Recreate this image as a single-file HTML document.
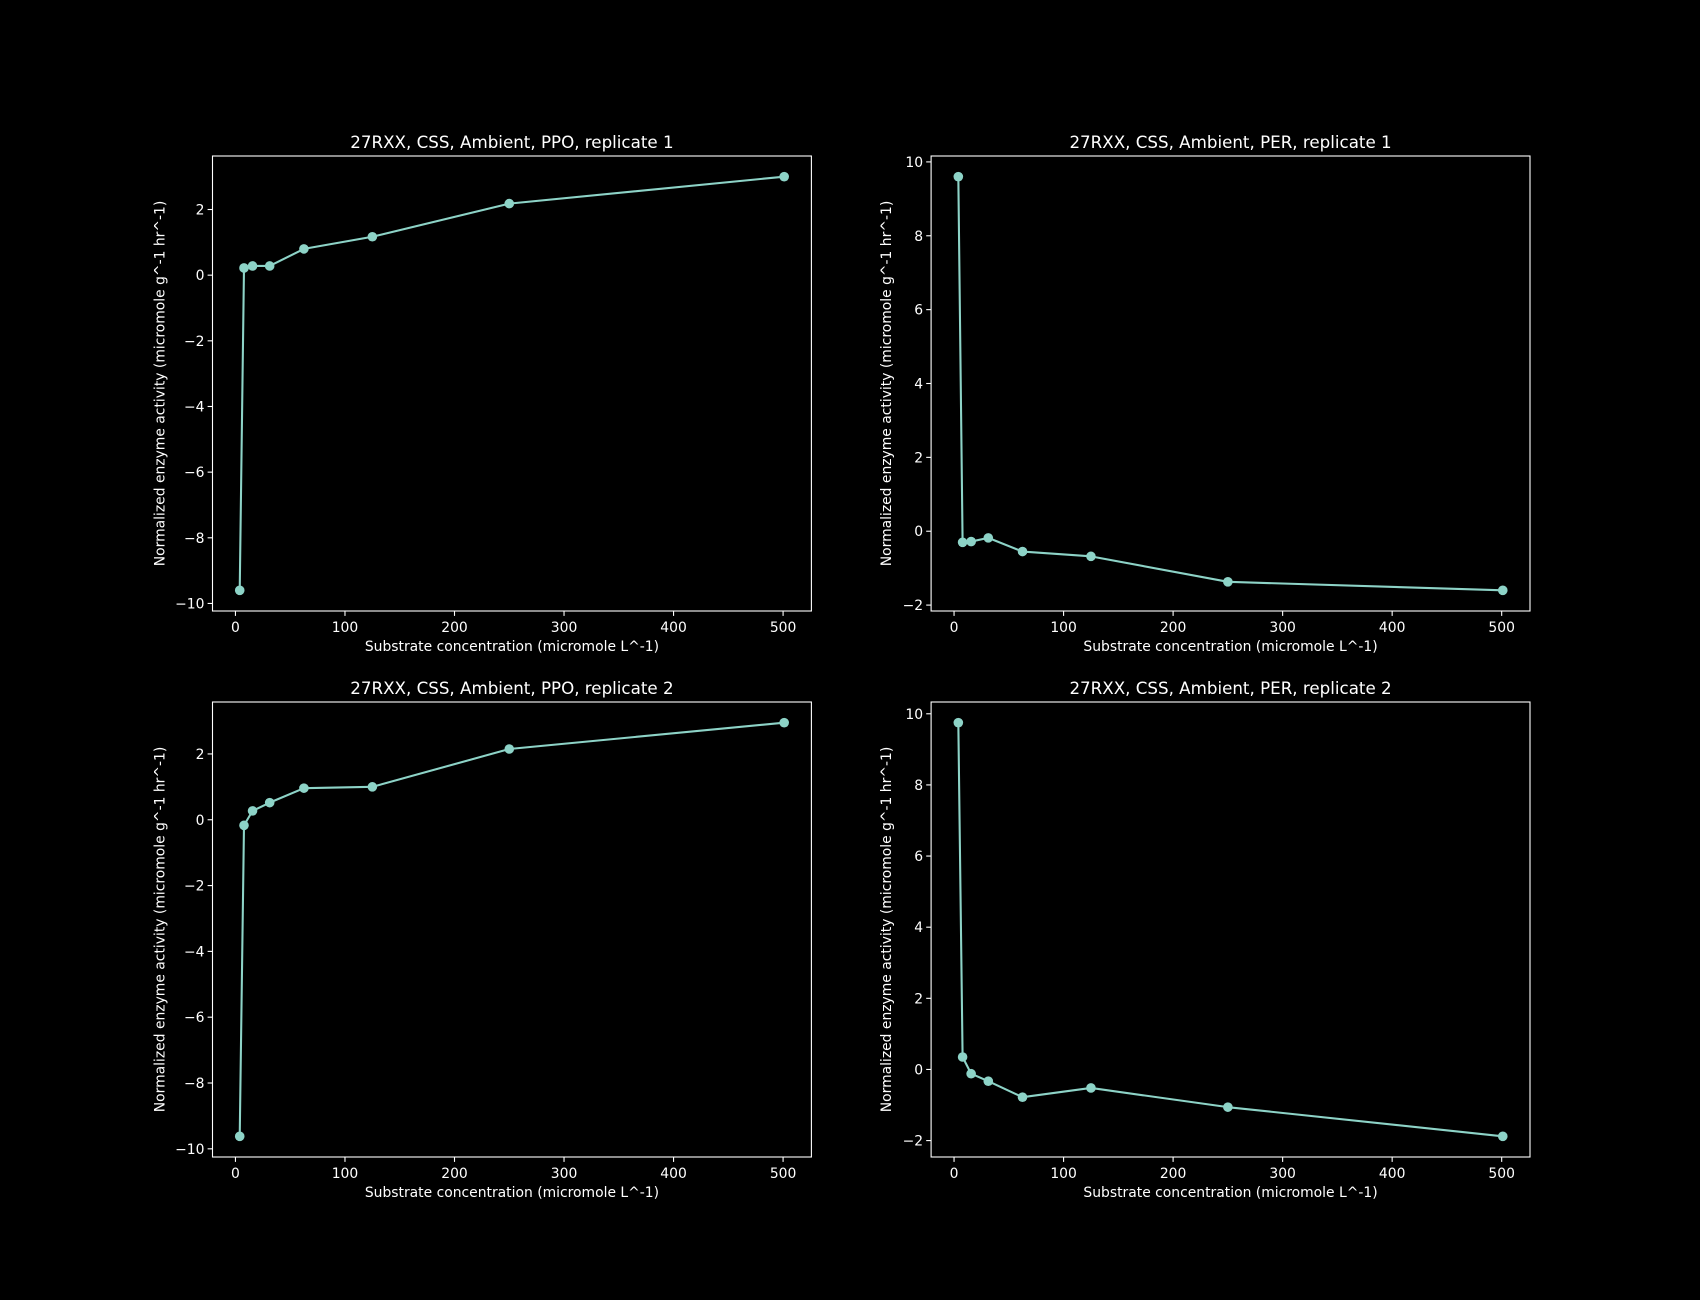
<!DOCTYPE html>
<html><head><meta charset="utf-8"><style>
html,body{margin:0;padding:0;background:#000;}
svg{display:block;}
text{font-family:"DejaVu Sans","Liberation Sans",sans-serif;fill:#fff;}
</style></head><body>
<svg id="fig" width="1700" height="1300" viewBox="0 0 1700 1300"></svg>
<script>
const xConc = [3.9, 7.8, 15.6, 31.25, 62.5, 125, 250, 501];
const ppoRep1 = [-9.6, 0.22, 0.28, 0.28, 0.8, 1.17, 2.18, 3.0];
const perRep1 = [9.6, -0.3, -0.28, -0.18, -0.55, -0.68, -1.37, -1.6];
const ppoRep2 = [-9.62, -0.17, 0.27, 0.52, 0.96, 1.0, 2.15, 2.95];
const perRep2 = [9.75, 0.35, -0.12, -0.33, -0.78, -0.52, -1.06, -1.88];
const titles = ["27RXX, CSS, Ambient, PPO, replicate 1","27RXX, CSS, Ambient, PER, replicate 1","27RXX, CSS, Ambient, PPO, replicate 2","27RXX, CSS, Ambient, PER, replicate 2"];
const xTicks = [0,100,200,300,400,500];

const NS="http://www.w3.org/2000/svg";
const svg=document.getElementById('fig');
function mk(tag,attrs,parent){const e=document.createElementNS(NS,tag);for(const k in attrs)e.setAttribute(k,attrs[k]);(parent||svg).appendChild(e);return e;}

const panels=[
 {ys:ppoRep1,L:212.5,T:156,W:598.9,H:455,name:'ppo-rep1',lab:48},
 {ys:perRep1,L:931.1,T:156,W:598.9,H:455,name:'per-rep1',lab:40},
 {ys:ppoRep2,L:212.5,T:702,W:598.9,H:455,name:'ppo-rep2',lab:48},
 {ys:perRep2,L:931.1,T:702,W:598.9,H:455,name:'per-rep2',lab:40}
];
panels.forEach((p,i)=>{
 const g=mk('g',{});
 
 
 const xmin=Math.min(...xConc),xmax=Math.max(...xConc),xr=xmax-xmin;
 const x0=xmin-0.05*xr,x1=xmax+0.05*xr;
 const ymin=Math.min(...p.ys),ymax=Math.max(...p.ys),yr=ymax-ymin;
 const y0=ymin-0.05*yr,y1=ymax+0.05*yr;
 const sx=v=>p.L+(v-x0)/(x1-x0)*p.W;
 const sy=v=>p.T+p.H-(v-y0)/(y1-y0)*p.H;
 xTicks.forEach(t=>{
  const X=sx(t);
  const tl=mk('line',{x1:X,x2:X,y1:p.T+p.H,y2:p.T+p.H+4.9,stroke:'#fff','stroke-width':1.1},g);
  
  
  const tx=mk('text',{x:X,y:p.T+p.H+21,'text-anchor':'middle','font-size':13.9},g);
  tx.textContent=String(t);
  
  
 });
 for(let t=Math.ceil(y0/2)*2;t<=y1;t+=2){
  const Y=sy(t);
  const tl=mk('line',{x1:p.L-4.9,x2:p.L,y1:Y,y2:Y,stroke:'#fff','stroke-width':1.1},g);
  
  
  const tx=mk('text',{x:p.L-8,y:Y+5,'text-anchor':'end','font-size':13.9},g);
  tx.textContent=(t<0?'\u2212':'')+Math.abs(t);
  
  
 }
 const pts=xConc.map((x,j)=>sx(x)+','+sy(p.ys[j])).join(' ');
 const pl=mk('polyline',{points:pts,fill:'none',stroke:'#8dd3c7','stroke-width':2.08,'stroke-linejoin':'round'},g);
 
 
 xConc.forEach((x,j)=>{
  const c=mk('circle',{cx:sx(x),cy:sy(p.ys[j]),r:4.8,fill:'#8dd3c7'},g);
  
  
 });
 const fr=mk('rect',{x:p.L,y:p.T,width:p.W,height:p.H,fill:'none',stroke:'#fff','stroke-width':1.1},g);
 
 
 const ti=mk('text',{x:p.L+p.W/2,y:p.T-8,'text-anchor':'middle','font-size':16.7},g);
 ti.textContent=titles[i];
 
 
 const xl=mk('text',{x:p.L+p.W/2,y:p.T+p.H+40,'text-anchor':'middle','font-size':13.9},g);
 xl.textContent='Substrate concentration (micromole L^-1)';
 
 
 const yx=p.L-p.lab,yy=p.T+p.H/2;
 const yl=mk('text',{x:yx,y:yy,'text-anchor':'middle','font-size':13.9,transform:`rotate(-90 ${yx} ${yy})`},g);
 yl.textContent='Normalized enzyme activity (micromole g^-1 hr^-1)';
 
 
});
</script>
</body></html>
